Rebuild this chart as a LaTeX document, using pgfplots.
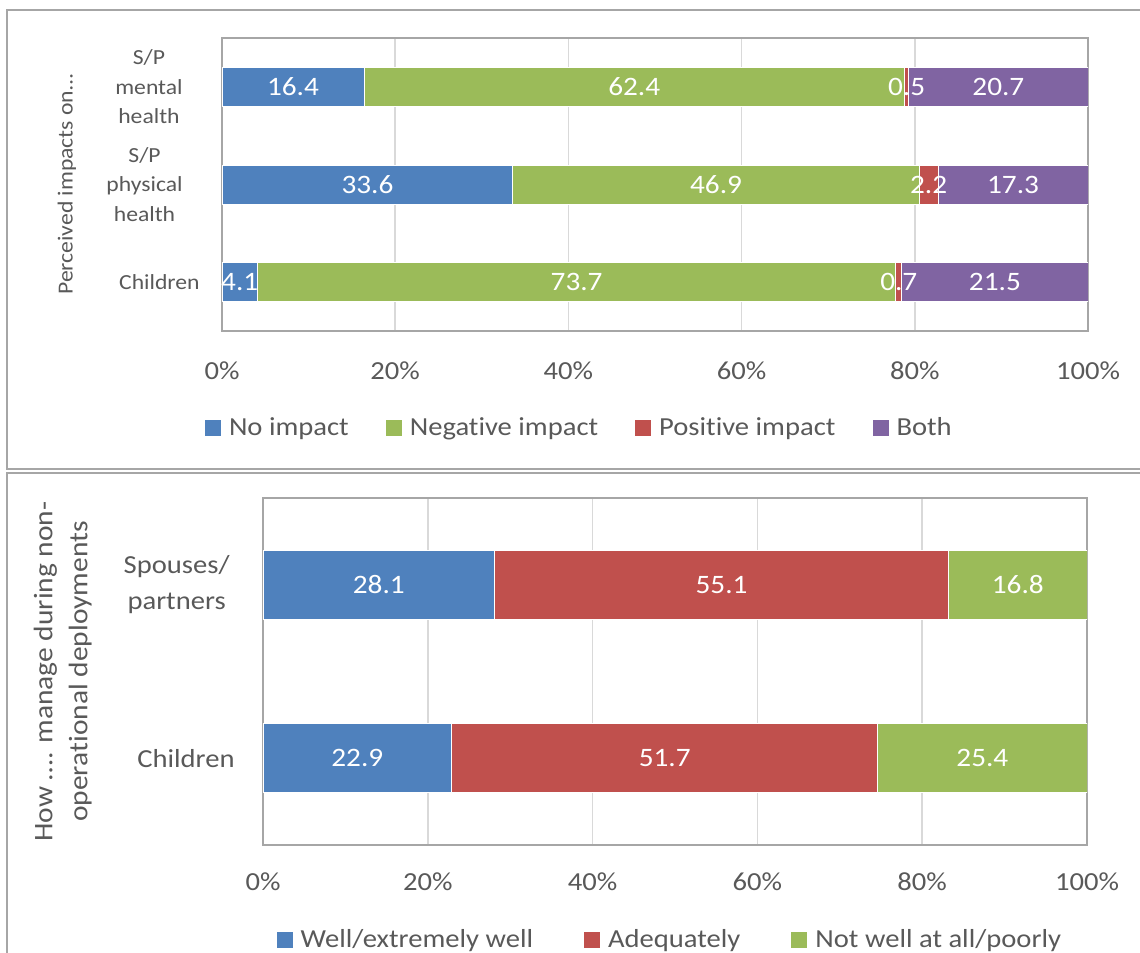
\documentclass[border=0pt]{standalone}
\usepackage{pgfplots}
\pgfplotsset{compat=1.18}
\usepackage{fontspec}
\setmainfont{Carlito}[FakeStretch=1.1, Ligatures=NoCommon]
\definecolor{cblue}{HTML}{4F81BD}
\definecolor{cgreen}{HTML}{9BBB59}
\definecolor{cred}{HTML}{C0504D}
\definecolor{cpurple}{HTML}{8064A2}
\definecolor{ctext}{HTML}{595959}
\definecolor{cframe}{HTML}{A6A6A6}
\definecolor{cgrid}{HTML}{D9D9D9}
\pgfplotsset{
  common/.style={
    scale only axis, xbar stacked, xmin=0, xmax=100,
    xtick={0,20,...,100}, xticklabel={\pgfmathprintnumber{\tick}\%},
    /pgf/number format/assume math mode=true,
    xmajorgrids, major grid style={cgrid, line width=0.75bp},
    axis line style={cframe, line width=1bp},
    major tick length=0pt,
    y dir=reverse,
    point meta=explicit,
    nodes near coords={\pgfmathprintnumber{\pgfplotspointmeta}},
    every axis plot/.append style={draw=white, line width=0.5bp},
    legend image code/.code={\fill[##1, draw=none] (0bp,-4bp) rectangle (8bp,4bp);},
  }
}
\begin{document}
\color{ctext}
\begin{tikzpicture}
\path[use as bounding box] (0,0) rectangle (570bp,-476.5bp);
\clip (0,0) rectangle (570bp,-476.5bp);
\draw[cframe, line width=1bp] (600bp,-5bp) -- (3.25bp,-5bp) -- (3.25bp,-234.65bp) -- (600bp,-234.65bp);
\draw[cframe, line width=1bp] (600bp,-236.65bp) -- (3.25bp,-236.65bp) -- (3.25bp,-500bp);

\begin{axis}[common,
  at={(111bp,-165.5bp)}, anchor=south west, width=433bp, height=146.5bp,
  ymin=-0.5, ymax=2.5, ytick={0,1,2},
  yticklabels={{S/P\\mental\\health},{S/P\\physical\\health},{Children\hspace*{-8.5bp}}},
  yticklabel style={align=center, anchor=east, inner sep=0pt, xshift=-19.5bp, font=\fontsize{10.75bp}{14.75bp}\selectfont},
  bar width=19.5bp,
  xticklabel style={anchor=base, yshift=-24bp, font=\fontsize{13bp}{15bp}\selectfont},
  ylabel={Perceived impacts on…},
  ylabel style={at={(axis description cs:-0.179,0.5)}, anchor=center, font=\fontsize{10.75bp}{13bp}\selectfont},
  nodes near coords style={text=white, font=\fontsize{13.3bp}{15bp}\selectfont, anchor=center},
  legend columns=4,
  legend style={at={(axis description cs:-0.0196,-0.331)}, anchor=west, draw=none, fill=none, inner sep=0pt, outer sep=0pt,
    font=\fontsize{13bp}{15bp}\selectfont, nodes={inner sep=0pt, text=ctext},
    /tikz/every odd column/.append style={column sep=4bp},
    /tikz/every even column/.append style={column sep=18.5bp}},
]
\addplot[fill=cblue] coordinates {(16.4,0) [16.4] (33.6,1) [33.6] (4.1,2) [4.1]};
\addplot[fill=cgreen] coordinates {(62.4,0) [62.4] (46.9,1) [46.9] (73.7,2) [73.7]};
\addplot[fill=cred] coordinates {(0.5,0) [0.5] (2.2,1) [2.2] (0.7,2) [0.7]};
\addplot[fill=cpurple] coordinates {(20.7,0) [20.7] (17.3,1) [17.3] (21.5,2) [21.5]};
\legend{No impact, Negative impact, Positive impact, Both}
\end{axis}

\begin{axis}[common,
  at={(131.5bp,-422.5bp)}, anchor=south west, width=412bp, height=173.5bp,
  ymin=-0.5, ymax=1.5, ytick={0,1},
  yticklabels={{Spouses/\\partners},{Children\hspace*{-2.5bp}}},
  yticklabel style={align=center, anchor=east, inner sep=0pt, xshift=-16.5bp, font=\fontsize{13bp}{17.85bp}\selectfont},
  bar width=34.5bp,
  xticklabel style={anchor=base, yshift=-22.85bp, font=\fontsize{13bp}{15bp}\selectfont},
  ylabel={How …. manage during non-\\operational deployments},
  ylabel style={align=center, at={(axis description cs:-0.243,0.5)}, anchor=center, font=\fontsize{13.4bp}{17.5bp}\selectfont},
  nodes near coords style={text=white, font=\fontsize{13.3bp}{15bp}\selectfont, anchor=center},
  legend columns=3,
  legend style={at={(axis description cs:0.0165,-0.275)}, anchor=west, draw=none, fill=none, inner sep=0pt, outer sep=0pt,
    font=\fontsize{13bp}{15bp}\selectfont, nodes={inner sep=0pt, text=ctext},
    /tikz/every odd column/.append style={column sep=4bp},
    /tikz/every even column/.append style={column sep=25.5bp}},
]
\addplot[fill=cblue] coordinates {(28.1,0) [28.1] (22.9,1) [22.9]};
\addplot[fill=cred] coordinates {(55.1,0) [55.1] (51.7,1) [51.7]};
\addplot[fill=cgreen] coordinates {(16.8,0) [16.8] (25.4,1) [25.4]};
\legend{Well/extremely well, Adequately, Not well at all/poorly}
\end{axis}
\end{tikzpicture}
\end{document}
